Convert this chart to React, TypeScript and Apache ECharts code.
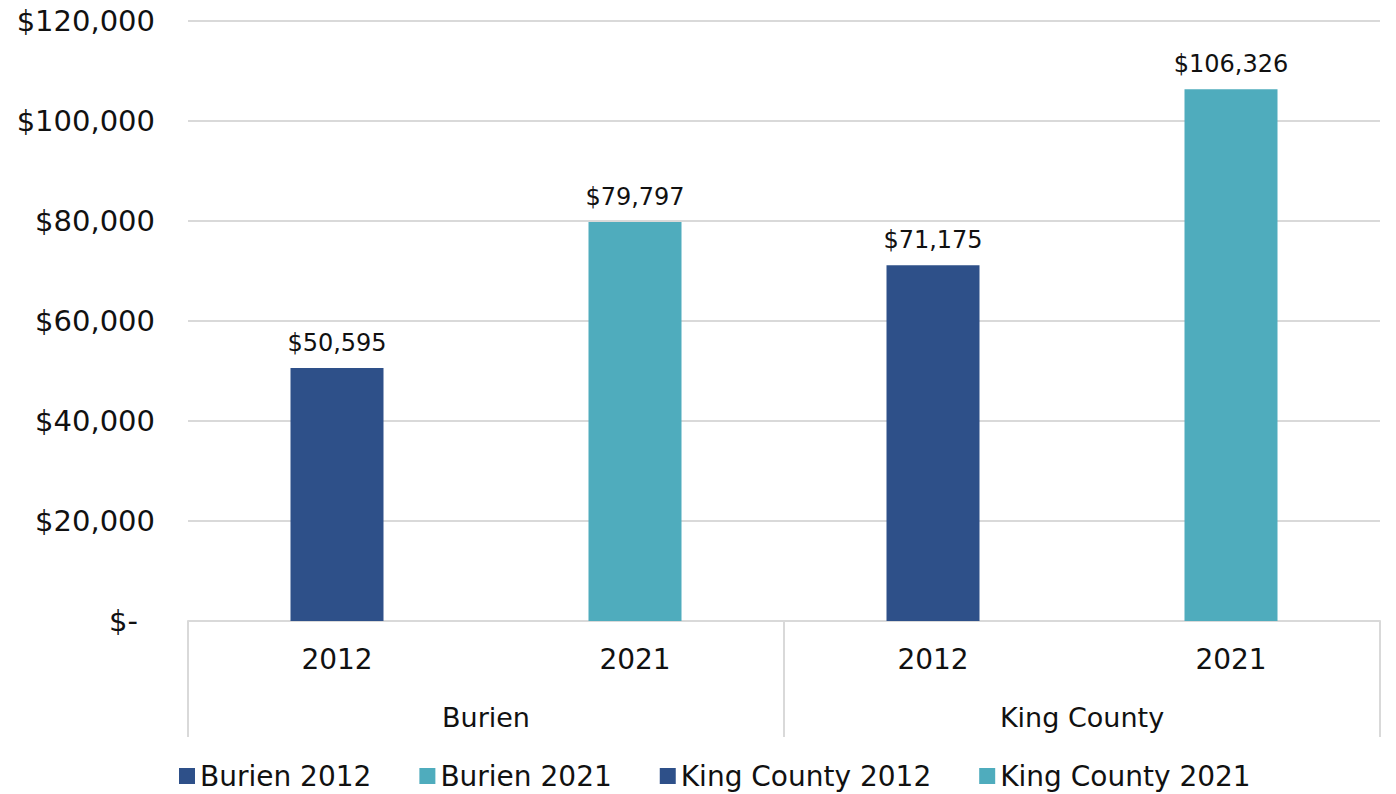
import React, { useEffect, useRef } from "react";
import * as echarts from "echarts";

const years = ["2012", "2021", "2012", "2021"];
const groups = ["Burien", "King County"];
const seriesNames = ["Burien 2012", "Burien 2021", "King County 2012", "King County 2021"];
const values = [50595, 79797, 71175, 106326];
const colors = ["#2E5089", "#4FACBD", "#2E5089", "#4FACBD"];
const yMin = 0;
const yMax = 120000;
const yStep = 20000;

const money = (v: number) => "$" + v.toLocaleString("en-US");
const FONT = "DejaVu Sans";

export default function App() {
  const ref = useRef<HTMLDivElement>(null);
  useEffect(() => {
    if (!ref.current) return;
    const chart = echarts.init(ref.current, null, { renderer: "svg" });
    const series = seriesNames.map((name, i) => ({
      name,
      type: "bar",
      stack: "all",
      barWidth: 93,
      xAxisIndex: 0,
      itemStyle: { color: colors[i] },
      data: years.map((_, j) => (j === i ? values[i] : null)),
      label: {
        show: true,
        position: "top",
        distance: 13,
        fontFamily: FONT,
        fontSize: 24,
        color: "#111",
        formatter: (p: any) => money(p.value),
      },
    }));
    chart.setOption({
      animation: false,
      backgroundColor: "#fff",
      grid: { left: 188, right: 16, top: 21, bottom: 173, containLabel: false },
      legend: {
        data: seriesNames,
        left: 174,
        top: 757,
        icon: "rect",
        itemWidth: 16,
        itemHeight: 16,
        itemGap: 48,
        textStyle: { fontFamily: FONT, fontSize: 28, color: "#111" },
      },
      xAxis: [
        {
          type: "category",
          data: years,
          position: "bottom",
          axisLine: { show: true, lineStyle: { color: "#d9d9d9", width: 2 } },
          axisTick: { show: false },
          axisLabel: { margin: 24, fontFamily: FONT, fontSize: 28, color: "#111" },
        },
        {
          type: "category",
          data: groups,
          position: "bottom",
          axisLine: { show: false },
          axisTick: { show: true, length: 116, lineStyle: { color: "#d9d9d9", width: 2 } },
          axisLabel: { margin: 83, fontFamily: FONT, fontSize: 27, color: "#111" },
        },
      ],
      yAxis: {
        type: "value",
        min: yMin,
        max: yMax,
        interval: yStep,
        axisLine: { show: false },
        axisTick: { show: false },
        splitLine: { lineStyle: { color: "#d9d9d9", width: 2 } },
        axisLabel: {
          margin: 33,
          fontFamily: FONT,
          fontSize: 29,
          color: "#111",
          formatter: (v: number) => (v === 0 ? "{z|$-}" : money(v)),
          rich: { z: { fontFamily: FONT, fontSize: 29, color: "#111", padding: [0, 17, 0, 0] } },
        },
      },
      series,
    });
    return () => chart.dispose();
  }, []);
  return (
    <div
      ref={ref}
      style={{ position: "fixed", left: 0, top: 0, width: 1396, height: 794, background: "#fff" }}
    />
  );
}
